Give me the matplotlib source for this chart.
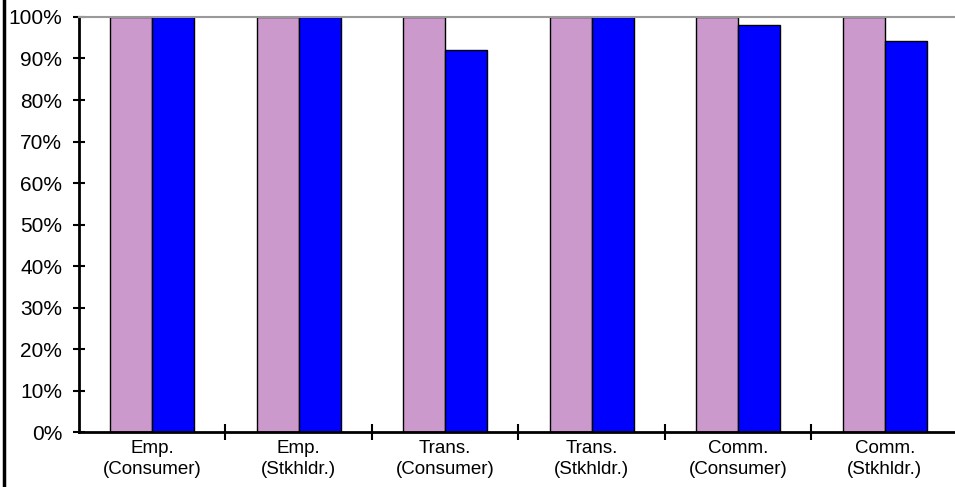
import matplotlib.pyplot as plt
from matplotlib.lines import Line2D
from matplotlib.ticker import PercentFormatter

plt.rcParams['font.family'] = ['Liberation Sans', 'DejaVu Sans']

categories = ["Emp.\n(Consumer)", "Emp.\n(Stkhldr.)", "Trans.\n(Consumer)",
              "Trans.\n(Stkhldr.)", "Comm.\n(Consumer)", "Comm.\n(Stkhldr.)"]
series_a = [100, 100, 100, 100, 100, 100]
series_b = [100, 100, 92, 100, 98, 94.3]

fig = plt.figure(figsize=(9.55, 4.87), dpi=100)
ax = fig.add_axes([0.0827, 0.1129, 0.9204, 0.8522])

x = list(range(len(categories)))
w = 0.287
ax.bar([i - w / 2 for i in x], series_a, width=w, color='#CC99CC',
       edgecolor='black', linewidth=1)
ax.bar([i + w / 2 for i in x], series_b, width=w, color='#0000FF',
       edgecolor='black', linewidth=1)

ax.set_xlim(-0.5, len(categories) - 0.5)
ax.set_ylim(0, 100)
ax.set_yticks(range(0, 101, 10))
ax.yaxis.set_major_formatter(PercentFormatter(decimals=0))

ax.set_xticks([i + 0.5 for i in x])
ax.set_xticklabels([])
ax.set_xticks(x, minor=True)
ax.set_xticklabels(categories, minor=True, fontsize=13.5, linespacing=1.3)
ax.tick_params(axis='x', which='minor', length=0, pad=6)
ax.tick_params(axis='x', which='major', direction='inout', length=11, width=1.5)
ax.tick_params(axis='y', direction='inout', length=8, width=1.5,
               labelsize=15, pad=8)

ax.spines['right'].set_visible(False)
ax.spines['top'].set_color('#999999')
ax.spines['top'].set_linewidth(1.5)
ax.spines['left'].set_linewidth(2)
ax.spines['bottom'].set_linewidth(2)

fig.add_artist(Line2D([3.5 / 955, 3.5 / 955], [0, 1], color='black',
                      linewidth=2.5, transform=fig.transFigure))

fig.savefig('out.png', dpi=100)
